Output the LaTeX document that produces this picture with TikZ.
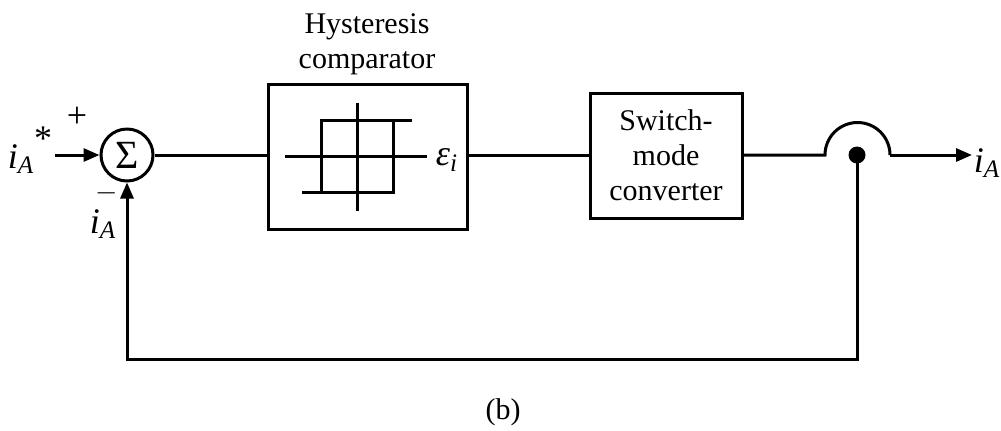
\documentclass[tikz,border=0pt]{standalone}
\usepackage{amsmath}
\usepackage{fontspec}
\setmainfont{Liberation Serif}
\usetikzlibrary{positioning,arrows.meta,calc}

\newcommand{\curI}[1]{\textit{i}$_{\textit{#1}}$}

\tikzset{
  sig/.style={line width=1.5pt},
  sigarrow/.style={sig, -{Triangle[length=8pt,width=6.5pt]}},
  blockbox/.style={draw, line width=1.5pt, align=center, inner sep=0pt},
  sumcircle/.style={draw, circle, line width=1.5pt, minimum size=26pt, inner sep=0pt},
  lbl/.style={inner sep=0pt, align=center},
  symlbl/.style={inner sep=0pt, font=\fontsize{18}{20}\selectfont},
}

\begin{document}
\begin{tikzpicture}[x=0.5pt, y=-0.5pt, font=\fontsize{15}{17.5}\selectfont]
\useasboundingbox (0,0) rectangle (1001,430);

% blocks
\node[sumcircle, font=\fontsize{20}{22}\selectfont] (sum) at (127,155) {\raisebox{-0.5pt}{Σ}};
\node[blockbox, minimum width=99.5pt, minimum height=72.5pt] (hyst) at (367.5,156.5) {};
\node[blockbox, minimum width=76pt, minimum height=62.5pt] (conv) at (666,155.5) {Switch-\\mode\\converter};
\node[circle, fill, minimum size=8.5pt, inner sep=0pt] (tap) at (857,155) {};
\coordinate (in) at (55,155);
\coordinate (out) at (972,155);
\coordinate (jumpL) at (825,155);
\coordinate (jumpR) at (890,155);

% hysteresis characteristic
\begin{scope}[shift={(hyst.center)}, sig]
  \draw (-82.5,0) -- (59.5,0);
  \draw (-10.5,-54) -- (-10.5,54);
  \draw (-65.5,36) -- (25.5,36) -- (25.5,-36);
  \draw (44.5,-36) -- (-46.5,-36) -- (-46.5,36);
\end{scope}

% labels
\node[lbl] (hystlbl) at (367,44.5) {Hysteresis\\comparator};
\node[symlbl] (ref) at (30,150) {\curI{A}\raisebox{1.1ex}{*}};
\node[symlbl] (plus) at (77,117) {+};
\node[lbl] (minus) at (107,193) {$-$};
\node[symlbl] (fblbl) at (103,224) {\curI{A}};
\node[symlbl] (eps) at (447,160) {\textit{ε}$_{\textit{i}}$};
\node[symlbl] (outlbl) at (987,163) {\curI{A}};
\node[lbl] (cap) at (503,412) {(b)};

% connectors
\draw[sigarrow] (in) -- (sum.west);
\draw[sig] (sum.east) -- (hyst.west |- sum.east);
\draw[sig] (hyst.east |- sum.east) -- (conv.west |- sum.east);
\draw[sig] (conv.east |- sum.east) -- (jumpL)
  arc[start angle=180, end angle=360, radius=32.5] -- (jumpR);
\draw[sigarrow] (jumpR) -- (out);
\draw[sigarrow] (tap.center) -- ++(0,204) -| (sum.south);
\end{tikzpicture}
\end{document}
